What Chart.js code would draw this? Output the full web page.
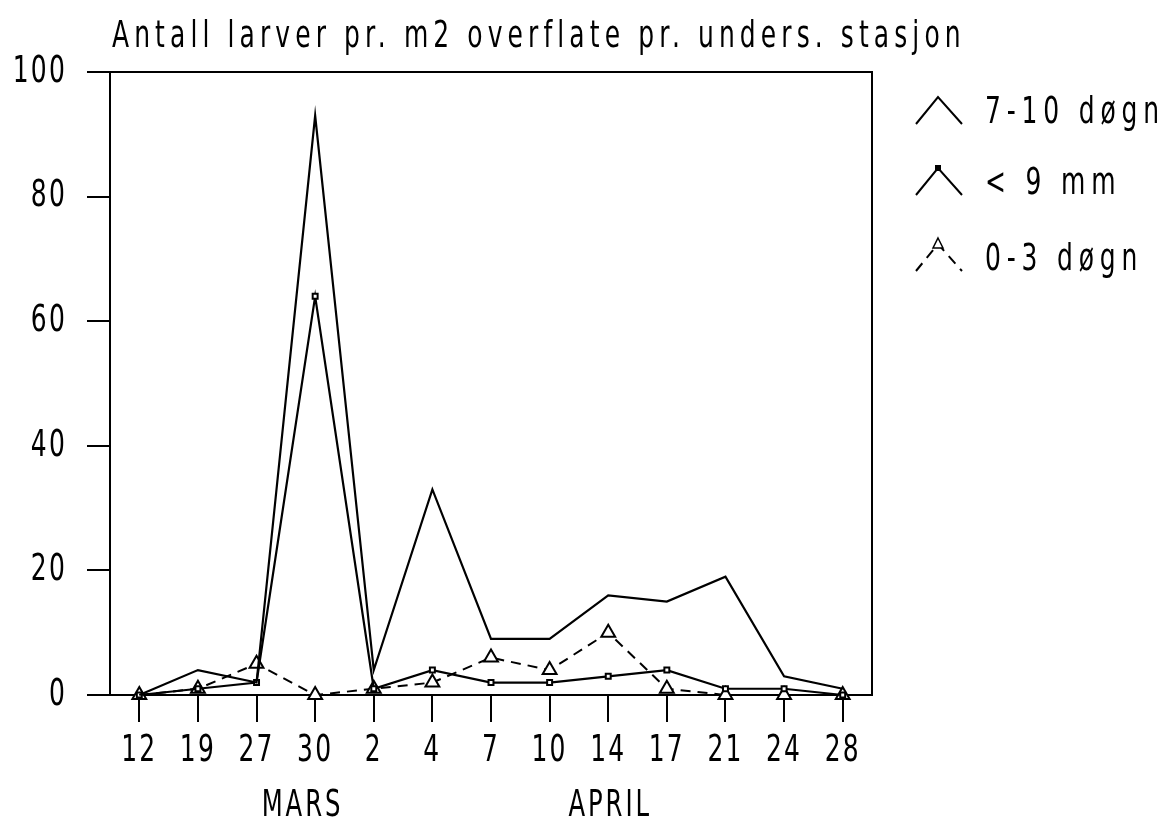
<!DOCTYPE html>
<html>
<head>
<meta charset="utf-8">
<script src="https://cdn.jsdelivr.net/npm/chart.js@4/dist/chart.umd.min.js"></script>
<style>
  html, body { margin: 0; padding: 0; background: #fff; }
  #wrap { width: 1170px; height: 828px; position: relative; }
</style>
</head>
<body>
<div id="wrap"><canvas id="c" width="1170" height="828"></canvas></div>
<script>
const titleText = 'Antall larver pr. m2 overflate pr. unders. stasjon';
const categories = ['12', '19', '27', '30', '2', '4', '7', '10', '14', '17', '21', '24', '28'];
const monthLabels = ['MARS', 'APRIL'];
const monthAt = [2.75, 8];
const seriesNames = ['7-10 døgn', '< 9 mm', '0-3 døgn'];
const days7to10 = [0, 4, 2, 93, 4, 33, 9, 9, 16, 15, 19, 3, 1];
const under9mm = [0, 1, 2, 64, 1, 4, 2, 2, 3, 4, 1, 1, 0];
const days0to3 = [0, 1, 5, 0, 1, 2, 6, 4, 10, 1, 0, 0, 0];
const yTicks = [0, 20, 40, 60, 80, 100];

const FONT = "'DejaVu Sans Condensed', 'Liberation Sans Narrow', sans-serif";
const SX = 0.73; // narrow plotter-style lettering

const boxPlugin = {
  id: 'boxAndText',
  beforeDraw(chart) {
    const ctx = chart.ctx;
    if (!ctx.__narrow) {
      const orig = CanvasRenderingContext2D.prototype.fillText;
      ctx.fillText = function (t, x, y, mw) {
        this.save();
        this.translate(x, y);
        this.scale(SX, 1);
        orig.call(this, t, 0, 0);
        this.restore();
      };
      ctx.__narrow = true;
    }
    ctx.letterSpacing = '3px';
  },
  afterDraw(chart) {
    const ctx = chart.ctx;
    const a = chart.chartArea;
    ctx.save();
    // plot frame (top and right)
    ctx.strokeStyle = '#000';
    ctx.lineWidth = 2;
    ctx.beginPath();
    ctx.moveTo(a.left, a.top);
    ctx.lineTo(a.right, a.top);
    ctx.lineTo(a.right, a.bottom);
    ctx.stroke();
    // title
    ctx.fillStyle = '#000';
    ctx.letterSpacing = '7px';
    ctx.font = '38px ' + FONT;
    ctx.textAlign = 'left';
    ctx.textBaseline = 'middle';
    ctx.fillText(titleText, 112, 37);
    // month labels
    const xs = chart.scales.x;
    ctx.textAlign = 'center';
    ctx.font = '37px ' + FONT;
    ctx.letterSpacing = '4px';
    monthLabels.forEach((m, i) => {
      ctx.fillText(m, xs.getPixelForValue(monthAt[i]) + 2, 806);
    });
    // legend
    ctx.letterSpacing = '8px';
    ctx.font = '38px ' + FONT;
    ctx.textAlign = 'left';
    const rows = [113, 184, 260];
    chart.data.datasets.forEach((ds, i) => {
      const y = rows[i];
      const x0 = 916, x1 = 962, xm = 938;
      const top = y - 16, bot = y + 11;
      ctx.strokeStyle = '#000';
      ctx.lineWidth = 2;
      ctx.setLineDash(ds.borderDash || []);
      ctx.beginPath();
      ctx.moveTo(x0, bot);
      ctx.lineTo(xm, top);
      ctx.lineTo(x1, bot);
      ctx.stroke();
      ctx.setLineDash([]);
      if (ds.pointRadius > 0) {
        ctx.fillStyle = '#fff';
        ctx.lineWidth = 1.5;
        const r = ds.pointRadius;
        if (ds.pointStyle === 'rect') {
          ctx.fillStyle = '#000';
          ctx.fillRect(xm - 3, top - 3, 6, 6);
        } else {
          ctx.beginPath();
          ctx.moveTo(xm, top - 6);
          ctx.lineTo(xm + 5, top + 4);
          ctx.lineTo(xm - 5, top + 4);
          ctx.closePath();
          ctx.fill();
          ctx.stroke();
        }
      }
      ctx.fillStyle = '#000';
      ctx.fillText(ds.label, 985, y);
    });
    ctx.restore();
  }
};

new Chart(document.getElementById('c'), {
  type: 'line',
  data: {
    labels: categories,
    datasets: [
      {
        label: seriesNames[0], data: days7to10,
        borderColor: '#000', borderWidth: 2.2, pointRadius: 0, tension: 0, clip: false
      },
      {
        label: seriesNames[1], data: under9mm,
        borderColor: '#000', borderWidth: 2.2, pointRadius: 3.5, pointStyle: 'rect',
        pointBackgroundColor: '#fff', pointBorderColor: '#000', pointBorderWidth: 2,
        tension: 0, clip: false
      },
      {
        label: seriesNames[2], data: days0to3,
        borderColor: '#000', borderWidth: 2, borderDash: [10, 7], pointRadius: 8, pointStyle: 'triangle',
        pointBackgroundColor: '#fff', pointBorderColor: '#000', pointBorderWidth: 2,
        tension: 0, clip: false
      }
    ]
  },
  options: {
    responsive: false,
    animation: false,
    events: [],
    layout: { padding: { left: 0, right: 298, top: 72, bottom: 0 } },
    plugins: { legend: { display: false }, title: { display: false }, tooltip: { enabled: false } },
    scales: {
      x: {
        type: 'category',
        offset: true,
        border: { display: true, color: '#000', width: 2 },
        grid: { display: true, offset: false, drawOnChartArea: false, drawTicks: true, tickLength: 27, color: '#000', lineWidth: 2 },
        ticks: { color: '#000', font: { family: FONT, size: 38 }, padding: 6, maxRotation: 0, autoSkip: false },
        afterFit(s) { s.height = 828 - 695; }
      },
      y: {
        min: 0, max: 100,
        afterBuildTicks(s) { s.ticks = yTicks.map(v => ({ value: v })); },
        border: { display: true, color: '#000', width: 2 },
        grid: { display: true, drawOnChartArea: false, drawTicks: true, tickLength: 23, color: '#000', lineWidth: 2 },
        ticks: { color: '#000', font: { family: FONT, size: 38 }, padding: 20 },
        afterFit(s) { s.width = 110; }
      }
    }
  },
  plugins: [boxPlugin]
});
</script>
</body>
</html>
